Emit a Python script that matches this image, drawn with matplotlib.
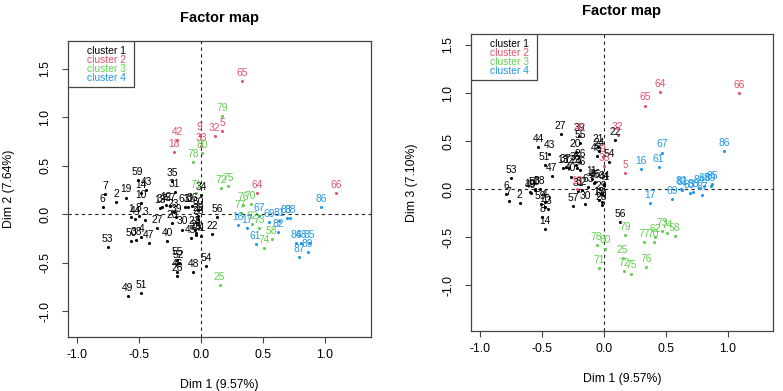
import matplotlib
matplotlib.use("Agg")
import matplotlib.pyplot as plt
from matplotlib.patches import Rectangle

plt.rcParams['font.family'] = ['Liberation Sans', 'DejaVu Sans']

# ---------------- data ----------------
ids_c1 = [6, 7, 53, 2, 19, 49, 1, 50, 44, 38, 59, 8, 4, 10, 14, 51, 3, 43, 47, 27,
          13, 37, 12, 40, 57, 35, 20, 23, 31, 39, 55, 46, 26, 52, 30, 63, 11, 45, 36,
          48, 21, 24, 15, 28, 29, 60, 34, 41, 54, 22, 56]
dim1_c1 = [-0.79, -0.77, -0.75, -0.68, -0.60, -0.59, -0.56, -0.56, -0.53, -0.52, -0.51,
           -0.50, -0.48, -0.48, -0.48, -0.48, -0.45, -0.44, -0.42, -0.35, -0.33, -0.31,
           -0.28, -0.27, -0.25, -0.23, -0.23, -0.22, -0.21, -0.20, -0.19, -0.19, -0.19,
           -0.18, -0.15, -0.13, -0.10, -0.08, -0.07, -0.06, -0.05, -0.04, -0.04, -0.02,
           -0.02, -0.02, 0.00, 0.00, 0.04, 0.09, 0.13]
dim2_c1 = [0.07, 0.21, -0.34, 0.12, 0.17, -0.85, -0.03, -0.28, -0.05, -0.27, 0.35,
           -0.02, -0.24, 0.11, 0.22, -0.81, -0.06, 0.25, -0.30, -0.14, 0.06, 0.07,
           0.09, -0.28, 0.08, 0.34, -0.09, 0.02, 0.23, -0.03, -0.47, -0.60, -0.64,
           -0.51, -0.16, 0.07, 0.07, -0.25, 0.08, -0.60, -0.16, -0.20, -0.22, -0.05,
           -0.02, 0.04, 0.20, -0.23, -0.54, -0.21, -0.03]
dim3_c1 = [-0.05, -0.12, 0.11, -0.15, -0.03, -0.04, 0.00, -0.01, 0.44, 0.00, -0.16,
           -0.29, -0.14, -0.19, -0.42, 0.25, -0.21, 0.37, 0.14, 0.57, 0.22, 0.23,
           0.22, 0.13, -0.18, 0.25, 0.39, 0.22, -0.02, 0.55, 0.48, 0.20, 0.28,
           -0.01, -0.16, 0.02, 0.10, 0.06, 0.07, 0.34, 0.44, 0.40, -0.11, -0.17,
           -0.05, -0.14, 0.05, 0.04, 0.28, 0.51, -0.34]

ids_c2 = [5, 9, 18, 32, 33, 42, 64, 65, 66]
dim1_c2 = [0.17, -0.01, -0.22, 0.11, 0.00, -0.19, 0.45, 0.33, 1.09]
dim2_c2 = [0.86, 0.81, 0.64, 0.80, 0.70, 0.76, 0.22, 1.37, 0.22]
dim3_c2 = [0.17, 0.33, 0.00, 0.56, 0.24, 0.55, 1.01, 0.87, 1.00]

ids_c3 = [25, 58, 62, 70, 71, 72, 73, 74, 75, 76, 77, 78, 79, 80]
dim1_c3 = [0.15, 0.57, 0.41, 0.40, -0.04, 0.16, 0.47, 0.51, 0.22, 0.34, 0.32, -0.06, 0.17, 0.01]
dim2_c3 = [-0.73, -0.26, -0.10, 0.10, 0.22, 0.27, -0.14, -0.35, 0.29, 0.09, 0.01, 0.54, 1.01, 0.63]
dim3_c3 = [-0.72, -0.49, -0.50, -0.55, -0.82, -0.85, -0.44, -0.46, -0.88, -0.81, -0.55, -0.58, -0.48, -0.62]

ids_c4 = [16, 17, 61, 67, 69, 81, 82, 83, 88, 84, 68, 85, 87, 89, 86]
dim1_c4 = [0.30, 0.37, 0.44, 0.47, 0.55, 0.63, 0.62, 0.69, 0.72, 0.77, 0.81, 0.87, 0.79, 0.86, 0.97]
dim2_c4 = [-0.11, -0.14, -0.31, -0.02, -0.08, -0.07, -0.19, -0.04, -0.04, -0.30, -0.30, -0.30, -0.44, -0.39, 0.07]
dim3_c4 = [0.21, -0.15, 0.23, 0.38, -0.10, -0.01, 0.00, -0.04, -0.03, 0.01, 0.03, 0.05, -0.06, 0.03, 0.40]

cluster_names = ["cluster 1", "cluster 2", "cluster 3", "cluster 4"]
cluster_colors = ["#000000", "#DF536B", "#61D04F", "#2297E6"]

clusters = [
    (ids_c1, dim1_c1, dim2_c1, dim3_c1),
    (ids_c2, dim1_c2, dim2_c2, dim3_c2),
    (ids_c3, dim1_c3, dim2_c3, dim3_c3),
    (ids_c4, dim1_c4, dim2_c4, dim3_c4),
]

xticks = [-1.0, -0.5, 0.0, 0.5, 1.0]
yticks = [-1.0, -0.5, 0.0, 0.5, 1.0, 1.5]

# ---------------- figure ----------------
fig = plt.figure(figsize=(7.83, 3.91), dpi=100)
ax1 = fig.add_axes([68/783, 1-337/391, 303/783, 296/391])
ax2 = fig.add_axes([471/783, 1-331/391, 302/783, 297/391])

panels = [
    (ax1, 2, "Dim 2 (7.64%)", (-1.07, 1.37), (-1.268, 1.784)),
    (ax2, 3, "Dim 3 (7.10%)", (-1.073, 1.363), (-1.479, 1.615)),
]

edge = "#444444"
for ax, dim, ylab, xl, yl in panels:
    for (ids, d1, d2, d3), col in zip(clusters, cluster_colors):
        ys = d2 if dim == 2 else d3
        ax.scatter(d1, ys, s=5, color=col, linewidths=0, zorder=3)
        for i, x, y in zip(ids, d1, ys):
            ax.annotate(str(i), (x, y), xytext=(0, 2.2), textcoords="offset points",
                        ha="center", va="bottom", fontsize=7.4, color=col, zorder=4)
    ax.axhline(0, color="#222222", lw=0.8, ls=(0, (3, 3)), zorder=1)
    ax.axvline(0, color="#222222", lw=0.8, ls=(0, (3, 3)), zorder=1)
    ax.set_xlim(*xl)
    ax.set_ylim(*yl)
    ax.set_xticks(xticks)
    ax.set_yticks(yticks)
    ax.set_xticklabels([f"{t:.1f}" for t in xticks], fontsize=8.8)
    ax.set_yticklabels([f"{t:.1f}" for t in yticks], fontsize=8.8, rotation=90, va="center")
    ax.tick_params(axis="both", direction="out", length=4, width=0.8, color=edge)
    ax.tick_params(axis="x", pad=5)
    ax.tick_params(axis="y", pad=8)
    for s in ax.spines.values():
        s.set_color(edge)
        s.set_linewidth(0.9)
    ax.set_xlabel("Dim 1 (9.57%)", fontsize=8.8)
    ax.set_ylabel(ylab, fontsize=8.8)
    ax.xaxis.set_label_coords(0.5, -0.142)
    ax.yaxis.set_label_coords(-0.175, 0.5)
    ax.set_title("Factor map", fontsize=10.5, fontweight="bold", pad=14)

    # legend box (text-only, like R legend)
    ax.add_patch(Rectangle((0, 0.845), 0.217, 0.155, transform=ax.transAxes,
                           facecolor="white", edgecolor=edge, lw=0.9, zorder=5))
    for k, (nm, col) in enumerate(zip(cluster_names, cluster_colors)):
        ax.text(0.062, 0.966 - k*0.0305, nm, transform=ax.transAxes, fontsize=7.4,
                color=col, va="center", ha="left", zorder=6)

fig.savefig("out.png", dpi=100)
